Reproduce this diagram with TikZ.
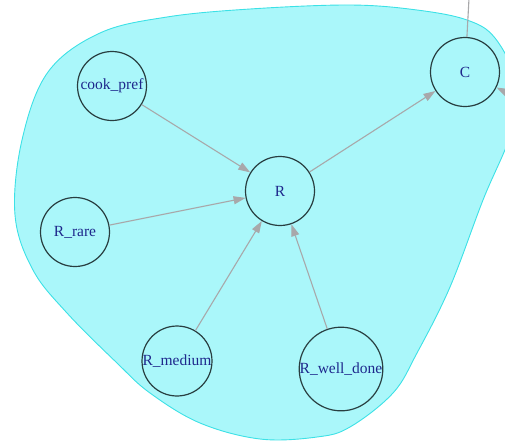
\documentclass[tikz,border=0pt]{standalone}
\usepackage{fontspec}
\setmainfont{Liberation Serif}
\usepackage{xcolor}
\usetikzlibrary{arrows.meta}
\definecolor{blobfill}{RGB}{170,247,250}
\definecolor{blobline}{RGB}{60,225,230}
\definecolor{varline}{RGB}{40,62,64}
\definecolor{vartext}{RGB}{30,40,140}
\definecolor{depline}{RGB}{168,168,170}

\begin{document}
\begin{tikzpicture}[x=1pt, y=-1pt,
  var/.style={circle, draw=varline, line width=1.2pt, fill=blobfill,
    minimum size=69pt, inner sep=0pt, text=vartext,
    font=\fontsize{15.5}{16}\selectfont},
  dep/.style={-{Triangle[length=12pt,width=8pt]}, depline, line width=1.1pt}]
\useasboundingbox (0,0) rectangle (505,440);
\clip (0,0) rectangle (505,440);
% cluster outline
\draw[blobline, fill=blobfill, line width=0.9pt] plot[smooth cycle, tension=0.6] coordinates
  {(15,215) (22,140) (48,72) (100,33) (167,17) (250,9) (350,5)
   (417,10) (467,20) (495,38) (515,80) (512,130) (483,200) (450,287)
   (417,353) (393,393) (350,427) (317,437) (260,439) (200,423) (150,393)
   (117,363) (67,313) (33,270)};
\node[var] (cook) at (112,86) {cook\_pref};
\node[var] (rare) at (75,232) {R\_rare};
\node[var] (R) at (280,191) {R};
\node[var] (medium) at (177,361) {R\_medium};
\node[var] (welldone) at (341,369) {R\_well\_done};
\node[var] (C) at (465,72) {C};
\coordinate (outTop) at (470,-20);
\coordinate (outRight) at (530,104);
\draw[dep] (cook) -- (R);
\draw[dep] (rare) -- (R);
\draw[dep] (medium) -- (R);
\draw[dep] (welldone) -- (R);
\draw[dep] (R) -- (C);
\draw[depline, line width=1.1pt] (C) -- (outTop);
\draw[dep] (outRight) -- (C);
\end{tikzpicture}
\end{document}
